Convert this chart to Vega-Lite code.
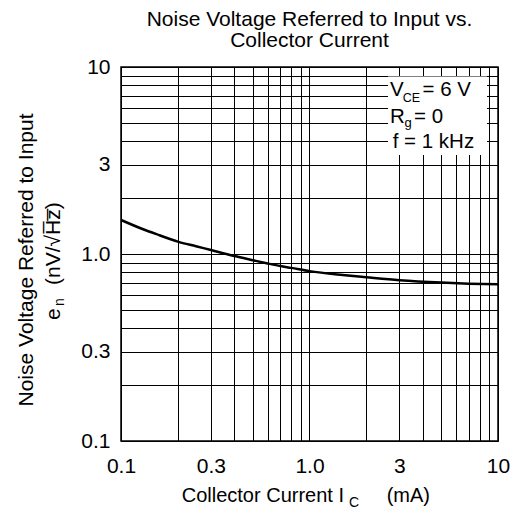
{
  "$schema": "https://vega.github.io/schema/vega-lite/v6.json",
  "autosize": "none",
  "width": 377,
  "height": 374,
  "padding": {"left": 121, "top": 67, "right": 25, "bottom": 74},
  "background": "white",
  "title": {
    "text": ["Noise Voltage Referred to Input vs.", "Collector Current"],
    "font": "Liberation Sans",
    "fontSize": 21,
    "fontWeight": "normal",
    "color": "black",
    "lineHeight": 21,
    "offset": 5,
    "anchor": "middle"
  },
  "config": {
    "view": {"stroke": "black", "strokeWidth": 1.5},
    "text": {"font": "Liberation Sans", "fontSize": 20.5, "color": "black", "baseline": "alphabetic", "align": "left"},
    "axis": {
      "grid": true,
      "gridColor": "black",
      "gridOpacity": 1,
      "gridWidth": 1,
      "domain": false,
      "ticks": false,
      "labelFont": "Liberation Sans",
      "labelFontSize": 21,
      "labelColor": "black",
      "labelFlush": false,
      "labelOverlap": false
    }
  },
  "layer": [
    {
      "data": {"values": [
        {"Ic": 0.1, "en": 1.52},
        {"Ic": 0.13, "en": 1.36},
        {"Ic": 0.16, "en": 1.26},
        {"Ic": 0.2, "en": 1.165},
        {"Ic": 0.25, "en": 1.1},
        {"Ic": 0.3, "en": 1.05},
        {"Ic": 0.4, "en": 0.975},
        {"Ic": 0.5, "en": 0.927},
        {"Ic": 0.6, "en": 0.89},
        {"Ic": 0.7, "en": 0.862},
        {"Ic": 0.8, "en": 0.843},
        {"Ic": 1.0, "en": 0.81},
        {"Ic": 1.5, "en": 0.772},
        {"Ic": 2.0, "en": 0.751},
        {"Ic": 3.0, "en": 0.724},
        {"Ic": 5.0, "en": 0.703},
        {"Ic": 7.0, "en": 0.694},
        {"Ic": 10.0, "en": 0.688}
      ]},
      "mark": {"type": "line", "color": "black", "strokeWidth": 2.5, "interpolate": "monotone"},
      "encoding": {
        "x": {
          "field": "Ic", "type": "quantitative",
          "scale": {"type": "log", "domain": [0.1, 10], "nice": false},
          "axis": {
            "title": null,
            "values": [0.1, 0.2, 0.3, 0.4, 0.5, 0.6, 0.7, 0.8, 0.9, 1, 2, 3, 4, 5, 6, 7, 8, 9, 10],
            "labelExpr": "indexof([0.1, 0.3, 1, 3, 10], datum.value) >= 0 ? (datum.value == 1 ? '1.0' : datum.value + '') : ''",
            "labelPadding": 14
          }
        },
        "y": {
          "field": "en", "type": "quantitative",
          "scale": {"type": "log", "domain": [0.1, 10], "nice": false},
          "axis": {
            "title": null,
            "values": [0.1, 0.2, 0.3, 0.4, 0.5, 0.6, 0.7, 0.8, 0.9, 1, 2, 3, 4, 5, 6, 7, 8, 9, 10],
            "labelExpr": "indexof([0.1, 0.3, 1, 3, 10], datum.value) >= 0 ? (datum.value == 1 ? '1.0' : datum.value + '') : ''",
            "labelPadding": 11
          }
        }
      }
    },
    {
      "data": {"values": [{}]},
      "mark": {"type": "rect", "fill": "white", "stroke": null},
      "encoding": {
        "x": {"datum": 2.61, "type": "quantitative", "scale": {"type": "log", "domain": [0.1, 10], "nice": false}},
        "x2": {"datum": 8.74},
        "y": {"datum": 8.9, "type": "quantitative", "scale": {"type": "log", "domain": [0.1, 10], "nice": false}},
        "y2": {"datum": 3.38}
      }
    },
    {
      "data": {"values": [{}]},
      "mark": {"type": "text", "text": "V"},
      "encoding": {
        "x": {"datum": 2.674, "type": "quantitative", "scale": {"type": "log", "domain": [0.1, 10], "nice": false}},
        "y": {"datum": 7.0, "type": "quantitative", "scale": {"type": "log", "domain": [0.1, 10], "nice": false}}
      }
    },
    {
      "data": {"values": [{}]},
      "mark": {"type": "text", "text": "CE", "fontSize": 12.5},
      "encoding": {
        "x": {"datum": 3.12, "type": "quantitative", "scale": {"type": "log", "domain": [0.1, 10], "nice": false}},
        "y": {"datum": 6.52, "type": "quantitative", "scale": {"type": "log", "domain": [0.1, 10], "nice": false}}
      }
    },
    {
      "data": {"values": [{}]},
      "mark": {"type": "text", "text": "= 6  V"},
      "encoding": {
        "x": {"datum": 3.98, "type": "quantitative", "scale": {"type": "log", "domain": [0.1, 10], "nice": false}},
        "y": {"datum": 7.0, "type": "quantitative", "scale": {"type": "log", "domain": [0.1, 10], "nice": false}}
      }
    },
    {
      "data": {"values": [{}]},
      "mark": {"type": "text", "text": "R"},
      "encoding": {
        "x": {"datum": 2.674, "type": "quantitative", "scale": {"type": "log", "domain": [0.1, 10], "nice": false}},
        "y": {"datum": 5.0, "type": "quantitative", "scale": {"type": "log", "domain": [0.1, 10], "nice": false}}
      }
    },
    {
      "data": {"values": [{}]},
      "mark": {"type": "text", "text": "g", "fontSize": 13},
      "encoding": {
        "x": {"datum": 3.19, "type": "quantitative", "scale": {"type": "log", "domain": [0.1, 10], "nice": false}},
        "y": {"datum": 4.776, "type": "quantitative", "scale": {"type": "log", "domain": [0.1, 10], "nice": false}}
      }
    },
    {
      "data": {"values": [{}]},
      "mark": {"type": "text", "text": "=  0"},
      "encoding": {
        "x": {"datum": 3.584, "type": "quantitative", "scale": {"type": "log", "domain": [0.1, 10], "nice": false}},
        "y": {"datum": 5.0, "type": "quantitative", "scale": {"type": "log", "domain": [0.1, 10], "nice": false}}
      }
    },
    {
      "data": {"values": [{}]},
      "mark": {"type": "text", "text": "f = 1 kHz"},
      "encoding": {
        "x": {"datum": 2.763, "type": "quantitative", "scale": {"type": "log", "domain": [0.1, 10], "nice": false}},
        "y": {"datum": 3.674, "type": "quantitative", "scale": {"type": "log", "domain": [0.1, 10], "nice": false}}
      }
    },
    {
      "data": {"values": [{}]},
      "mark": {"type": "text", "text": "Noise Voltage Referred to Input", "angle": 270, "align": "center", "fontSize": 21},
      "encoding": {
        "x": {"datum": 0.0341, "type": "quantitative", "scale": {"type": "log", "domain": [0.1, 10], "nice": false}},
        "y": {"datum": 0.929, "type": "quantitative", "scale": {"type": "log", "domain": [0.1, 10], "nice": false}}
      }
    },
    {
      "data": {"values": [{}]},
      "mark": {"type": "text", "text": "e", "angle": 270, "fontSize": 21},
      "encoding": {
        "x": {"datum": 0.0475, "type": "quantitative", "scale": {"type": "log", "domain": [0.1, 10], "nice": false}},
        "y": {"datum": 0.4436, "type": "quantitative", "scale": {"type": "log", "domain": [0.1, 10], "nice": false}}
      }
    },
    {
      "data": {"values": [{}]},
      "mark": {"type": "text", "text": "n", "angle": 270, "fontSize": 14},
      "encoding": {
        "x": {"datum": 0.0498, "type": "quantitative", "scale": {"type": "log", "domain": [0.1, 10], "nice": false}},
        "y": {"datum": 0.527, "type": "quantitative", "scale": {"type": "log", "domain": [0.1, 10], "nice": false}}
      }
    },
    {
      "data": {"values": [{}]},
      "mark": {"type": "text", "text": "(nV/\u221aH\u0305z\u0305)", "angle": 270, "fontSize": 21},
      "encoding": {
        "x": {"datum": 0.0475, "type": "quantitative", "scale": {"type": "log", "domain": [0.1, 10], "nice": false}},
        "y": {"datum": 0.683, "type": "quantitative", "scale": {"type": "log", "domain": [0.1, 10], "nice": false}}
      }
    },
    {
      "data": {"values": [{}]},
      "mark": {"type": "text", "text": "Collector Current I", "align": "right", "fontSize": 20},
      "encoding": {
        "x": {"datum": 1.524, "type": "quantitative", "scale": {"type": "log", "domain": [0.1, 10], "nice": false}},
        "y": {"datum": 0.0474, "type": "quantitative", "scale": {"type": "log", "domain": [0.1, 10], "nice": false}}
      }
    },
    {
      "data": {"values": [{}]},
      "mark": {"type": "text", "text": "C", "fontSize": 14},
      "encoding": {
        "x": {"datum": 1.62, "type": "quantitative", "scale": {"type": "log", "domain": [0.1, 10], "nice": false}},
        "y": {"datum": 0.0444, "type": "quantitative", "scale": {"type": "log", "domain": [0.1, 10], "nice": false}}
      }
    },
    {
      "data": {"values": [{}]},
      "mark": {"type": "text", "text": "(mA)", "fontSize": 20},
      "encoding": {
        "x": {"datum": 2.568, "type": "quantitative", "scale": {"type": "log", "domain": [0.1, 10], "nice": false}},
        "y": {"datum": 0.0474, "type": "quantitative", "scale": {"type": "log", "domain": [0.1, 10], "nice": false}}
      }
    }
  ]
}
